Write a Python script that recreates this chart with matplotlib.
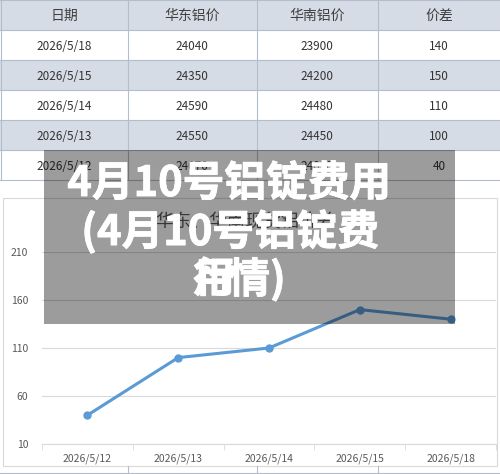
import matplotlib
matplotlib.use('Agg')
import matplotlib.pyplot as plt
import matplotlib.patheffects as pe
from matplotlib.patches import Rectangle

plt.rcParams['font.family'] = ['Noto Sans CJK SC', 'DejaVu Sans']

# 表格数据
headers = ['日期', '华东铝价', '华南铝价', '价差']
dates = ['2026/5/18', '2026/5/15', '2026/5/14', '2026/5/13', '2026/5/12']
east = [24040, 24350, 24590, 24550, 24070]
south = [23900, 24200, 24480, 24450, 24030]
spread = [140, 150, 110, 100, 40]

# 折线图数据（按日期升序）
chart_dates = ['2026/5/12', '2026/5/13', '2026/5/14', '2026/5/15', '2026/5/18']
chart_spread = [40, 100, 110, 150, 140]
yticks = [10, 60, 110, 160, 210]

chart_title = '华东、华南现货铝价差'
banner = ['4月10号铝锭费用', '(4月10号铝锭费', '情)']

W, H = 500, 474
fig = plt.figure(figsize=(W / 100, H / 100), dpi=100)

# 背景层，用像素坐标画表格
bg = fig.add_axes([0, 0, 1, 1])
bg.set_xlim(0, W)
bg.set_ylim(H, 0)
bg.axis('off')

col_x = [0, 128, 257, 378, 500]
col_c = [64, 192, 317, 439]
row_h = 30
fill = '#d6dce5'
line_c = '#b4bdcc'

bg.add_patch(Rectangle((0, 0), W, row_h, fc=fill, ec='none'))
for i in range(len(dates)):
    y0 = row_h * (i + 1)
    if i % 2 == 1:
        bg.add_patch(Rectangle((0, y0), W, row_h, fc=fill, ec='none'))
for i in range(len(dates) + 2):
    bg.plot([0, W], [row_h * i, row_h * i], color=line_c, lw=0.8)
for x in col_x[1:-1]:
    bg.plot([x, x], [0, 180], color=line_c, lw=0.8)
    bg.plot([x, x], [466, H], color=line_c, lw=0.8)
bg.plot([1, 1], [0, 180], color=line_c, lw=0.8)
bg.plot([0, W], [473, 473], color=line_c, lw=0.8)

for j, h in enumerate(headers):
    bg.text(col_c[j], 16, h, ha='center', va='center', fontsize=10, color='#404040')
for i in range(len(dates)):
    yc = row_h * (i + 1) + 16
    vals = [dates[i], str(east[i]), str(south[i]), str(spread[i])]
    for j, v in enumerate(vals):
        bg.text(col_c[j], yc, v, ha='center', va='center', fontsize=8.5, color='#333333')

# 图表框
bg.add_patch(Rectangle((3, 198), 494, 268, fc='white', ec='#d9d9d9', lw=0.8))
bg.text(245, 222, chart_title, ha='center', va='center', fontsize=13, color='#595959')

# 折线图
ax = fig.add_axes([42 / W, 1 - 444 / H, (496 - 42) / W, (444 - 252) / H])
ax.patch.set_alpha(0)
xs = list(range(len(chart_dates)))
ax.plot(xs, chart_spread, color='#5b9bd5', lw=2.2, marker='o', ms=5, zorder=3)
ax.set_xlim(-0.5, len(chart_dates) - 0.5)
ax.set_ylim(yticks[0], yticks[-1])
ax.set_yticks(yticks)
ax.set_xticks(xs)
ax.set_xticklabels(chart_dates)
ax.set_xticks([x + 0.5 for x in range(-1, len(chart_dates))], minor=True)
ax.grid(axis='y', color='#d9d9d9', lw=0.8)
for s in ['top', 'right', 'left']:
    ax.spines[s].set_visible(False)
ax.spines['bottom'].set_color('#d9d9d9')
ax.tick_params(axis='y', length=0, pad=10, labelsize=7.5, labelcolor='#595959')
ax.tick_params(axis='x', which='major', length=0, pad=7, labelsize=7.5, labelcolor='#595959')
ax.tick_params(axis='x', which='minor', length=4, color='#d9d9d9')

# 灰色遮罩和标题
top = fig.add_axes([0, 0, 1, 1])
top.set_xlim(0, W)
top.set_ylim(H, 0)
top.axis('off')
top.add_patch(Rectangle((44, 150), 411, 174, fc='black', ec='none', alpha=0.39))
thick = [pe.withStroke(linewidth=0.6, foreground='white')]
tk = dict(ha='center', va='center', fontsize=30, color='white', fontweight='bold',
          path_effects=thick)
top.text(229, 184, banner[0], **tk)
top.text(230, 232, banner[1], **tk)
top.text(257, 280, banner[2], **tk)
top.text(214, 280, '用', **tk)
top.text(214, 280, '行', **tk)

fig.savefig('out.png', dpi=100)
